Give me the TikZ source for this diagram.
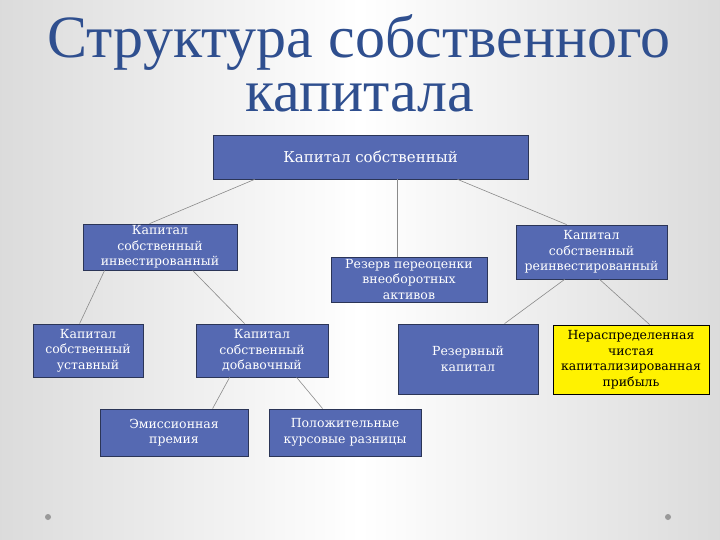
\documentclass[tikz,border=0pt]{standalone}
\usepackage{fontspec}
\setmainfont{DejaVu Serif}
\newfontfamily\titlefont{Liberation Serif}
\definecolor{boxfill}{HTML}{5569B2}
\definecolor{boxline}{HTML}{2B3557}
\definecolor{titleblue}{HTML}{2F4F8F}
\definecolor{linkgray}{HTML}{8A8A8A}
\tikzset{
  bx/.style={draw=boxline, line width=0.8pt, fill=boxfill, text=white, align=center,
    font=\fontsize{12.5}{15.5}\selectfont, inner sep=1pt},
  ybx/.style={bx, fill=yellow, draw=black, text=black},
  link/.style={draw=linkgray, line width=0.6pt},
  dot/.style={circle, fill=gray!80, inner sep=0pt, minimum size=6pt},
  ttl/.style={font=\titlefont\fontsize{60}{54}\selectfont, text=titleblue, anchor=base, inner sep=0pt},
}
\begin{document}
\begin{tikzpicture}[x=1pt,y=-1pt]
\useasboundingbox (0,0) rectangle (720,540);
\shade[left color=gray!28, right color=gray!28, middle color=white] (0,0) rectangle (720,540);
% title
\node[ttl] (title1) at (359,58) {Структура собственного};
\node[ttl] (title2) at (360,112) {капитала};
% boxes
\node[bx, minimum width=315pt, minimum height=44pt, font=\fontsize{15}{18}\selectfont] (top) at (370.5,157) {Капитал собственный};
\node[bx, minimum width=154pt, minimum height=46pt] (inv) at (160,247) {Капитал\\собственный\\инвестированный};
\node[bx, minimum width=156pt, minimum height=45pt] (rev) at (409,279.5) {Резерв переоценки\\внеоборотных\\активов};
\node[bx, minimum width=151pt, minimum height=54pt] (rei) at (591.5,252) {Капитал\\собственный\\реинвестированный};
\node[bx, minimum width=110pt, minimum height=53pt] (ust) at (88,350.5) {Капитал\\собственный\\уставный};
\node[bx, minimum width=132pt, minimum height=53pt] (dob) at (262,350.5) {Капитал\\собственный\\добавочный};
\node[bx, minimum width=140pt, minimum height=70pt] (rk) at (468,359) {Резервный\\капитал};
\node[ybx, minimum width=156pt, minimum height=69pt] (np) at (631,359.5) {Нераспределенная\\чистая\\капитализированная\\прибыль};
\node[bx, minimum width=148pt, minimum height=47pt] (em) at (174,432.5) {Эмиссионная\\премия};
\node[bx, minimum width=152pt, minimum height=47pt] (pkr) at (345,432.5) {Положительные\\курсовые разницы};
% connectors
\draw[link] ([xshift=42pt]top.south west) -- ([xshift=67pt]inv.north west);
\draw[link] ([xshift=185pt]top.south west) -- ([xshift=67pt]rev.north west);
\draw[link] ([xshift=245pt]top.south west) -- ([xshift=51pt]rei.north west);
\draw[link] ([xshift=22pt]inv.south west) -- ([xshift=47pt]ust.north west);
\draw[link] ([xshift=110pt]inv.south west) -- ([xshift=49pt]dob.north west);
\draw[link] ([xshift=49pt]rei.south west) -- ([xshift=107pt]rk.north west);
\draw[link] ([xshift=84pt]rei.south west) -- ([xshift=97pt]np.north west);
\draw[link] ([xshift=34pt]dob.south west) -- ([xshift=113pt]em.north west);
\draw[link] ([xshift=101pt]dob.south west) -- ([xshift=54pt]pkr.north west);
% dots
\node[dot] (d1) at (48,517) {};
\node[dot] (d2) at (668,517) {};
\end{tikzpicture}
\end{document}
